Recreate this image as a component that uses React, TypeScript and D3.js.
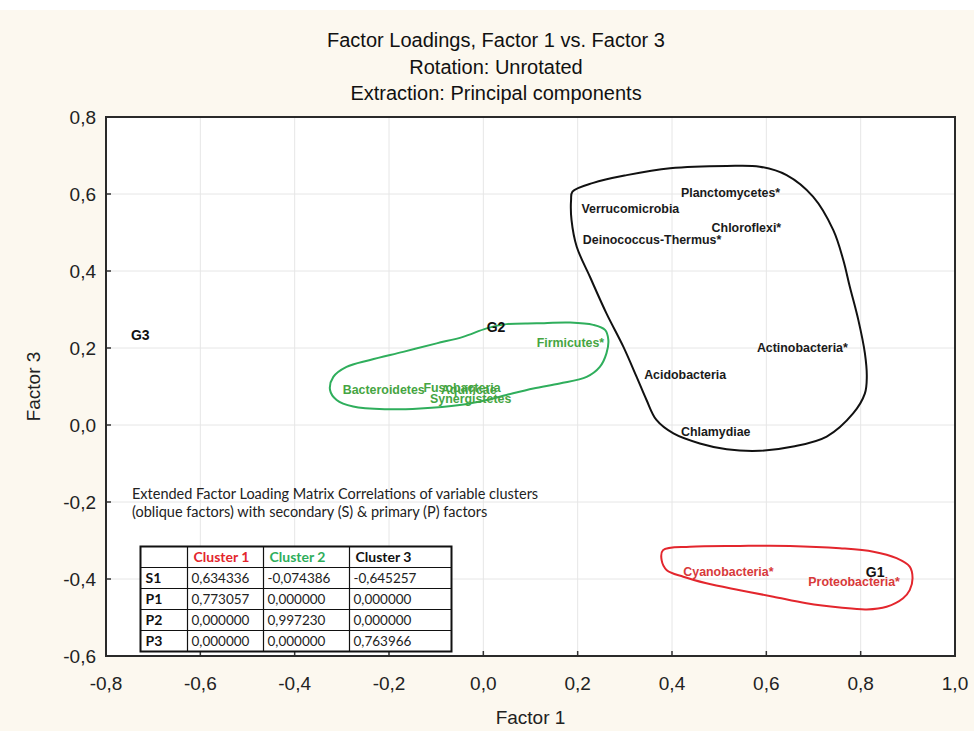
import React from "react";
import * as d3 from "d3";

const W = 974;
const H = 731;

const titleLines = [
  "Factor Loadings, Factor 1 vs. Factor 3",
  "Rotation: Unrotated",
  "Extraction: Principal components",
];
const xLabel = "Factor 1";
const yLabel = "Factor 3";

const xTicks = [-0.8, -0.6, -0.4, -0.2, 0.0, 0.2, 0.4, 0.6, 0.8, 1.0];
const yTicks = [-0.6, -0.4, -0.2, 0.0, 0.2, 0.4, 0.6, 0.8];

// variable loadings (label anchor = point)
const pointNames = [
  "Planctomycetes*",
  "Verrucomicrobia",
  "Chloroflexi*",
  "Deinococcus-Thermus*",
  "Actinobacteria*",
  "Acidobacteria",
  "Chlamydiae",
  "Firmicutes*",
  "Bacteroidetes",
  "Fusobacteria",
  "Aquificae",
  "Synergistetes",
  "Cyanobacteria*",
  "Proteobacteria*",
];
const pointX = [0.419, 0.208, 0.484, 0.211, 0.58, 0.341, 0.419, 0.113, -0.298, -0.127, -0.09, -0.113, 0.424, 0.689];
const pointY = [0.603, 0.561, 0.512, 0.481, 0.2, 0.13, -0.017, 0.215, 0.091, 0.097, 0.093, 0.069, -0.381, -0.407];
const pointCluster = [3, 3, 3, 3, 3, 3, 3, 2, 2, 2, 2, 2, 1, 1];

const groupNames = ["G1", "G2", "G3"];
const groupX = [0.811, 0.007, -0.747];
const groupY = [-0.381, 0.254, 0.234];

const cluster1Outline: [number, number][] = [
  [0.381, -0.325], [0.438, -0.316], [0.544, -0.314], [0.65, -0.314], [0.756, -0.32],
  [0.827, -0.329], [0.876, -0.346], [0.904, -0.368], [0.91, -0.398], [0.904, -0.429],
  [0.89, -0.45], [0.855, -0.472], [0.813, -0.479], [0.756, -0.474], [0.685, -0.463],
  [0.615, -0.446], [0.544, -0.429], [0.473, -0.411], [0.424, -0.394], [0.389, -0.377],
  [0.378, -0.351],
];
const cluster2Outline: [number, number][] = [
  [0.007, 0.251], [0.049, 0.262], [0.113, 0.264], [0.184, 0.266], [0.233, 0.26],
  [0.258, 0.247], [0.265, 0.221], [0.261, 0.186], [0.247, 0.151], [0.219, 0.125],
  [0.162, 0.108], [0.106, 0.095], [0.049, 0.078], [0.007, 0.065], [-0.05, 0.052],
  [-0.134, 0.043], [-0.205, 0.041], [-0.276, 0.048], [-0.311, 0.065], [-0.325, 0.091],
  [-0.318, 0.125], [-0.29, 0.151], [-0.24, 0.169], [-0.17, 0.19], [-0.099, 0.212],
  [-0.043, 0.229],
];
const cluster3Outline: [number, number][] = [
  [0.189, 0.606], [0.233, 0.629], [0.304, 0.649], [0.396, 0.667], [0.516, 0.673],
  [0.586, 0.671], [0.643, 0.649], [0.699, 0.593], [0.742, 0.506], [0.763, 0.429],
  [0.777, 0.359], [0.795, 0.273], [0.809, 0.186], [0.813, 0.125], [0.809, 0.082],
  [0.784, 0.03], [0.728, -0.03], [0.657, -0.056], [0.586, -0.067], [0.516, -0.063],
  [0.459, -0.048], [0.403, -0.022], [0.367, 0.013], [0.346, 0.065], [0.325, 0.125],
  [0.297, 0.203], [0.261, 0.29], [0.226, 0.385], [0.198, 0.463], [0.187, 0.532],
  [0.186, 0.584],
];

const noteLines = [
  "Extended Factor Loading Matrix Correlations of variable clusters",
  "(oblique factors) with secondary (S) & primary (P) factors",
];
const tableHeaders = ["", "Cluster 1", "Cluster 2", "Cluster 3"];
const tableRowLabels = ["S1", "P1", "P2", "P3"];
const tableValues = [
  ["0,634336", "-0,074386", "-0,645257"],
  ["0,773057", "0,000000", "0,000000"],
  ["0,000000", "0,997230", "0,000000"],
  ["0,000000", "0,000000", "0,763966"],
];

const clusterStroke: Record<number, string> = { 1: "#e3262d", 2: "#2fae5c", 3: "#111111" };
const clusterText: Record<number, string> = { 1: "#d8393a", 2: "#45a542", 3: "#1a1a1a" };
const headerColors = ["#000", "#e3262d", "#2fae5c", "#111"];

const locale = d3.formatLocale({ decimal: ",", thousands: ".", grouping: [3], currency: ["", ""], minus: "-" });
const fmt = locale.format(".1f");

export default function App() {
  const left = 106, right = 955, top = 117, bottom = 656;
  const x = d3.scaleLinear().domain([-0.8, 1.0]).range([left, right]);
  const y = d3.scaleLinear().domain([-0.6, 0.8]).range([bottom, top]);
  const line = d3
    .line<[number, number]>()
    .x((d) => x(d[0]))
    .y((d) => y(d[1]))
    .curve(d3.curveCatmullRomClosed.alpha(0.5));

  const axisFont = "'Liberation Sans', Arial, sans-serif";
  const noteFont = "Lato, 'Open Sans', sans-serif";

  const colEdges = [140.5, 187.5, 263.5, 349.5, 451.5];
  const rowH = 21;
  const tableTop = 546.5;

  return (
    <div style={{ position: "absolute", left: 0, top: 0 }}>
      <svg width={W} height={H} style={{ display: "block" }}>
        <rect x={0} y={0} width={W} height={H} fill="#ffffff" />
        <rect x={0} y={10} width={W} height={H - 10} fill="#fcf8ef" />
        <rect x={left} y={top} width={right - left} height={bottom - top} fill="#ffffff" />

        {/* grid */}
        {xTicks.slice(1, -1).map((t) => (
          <line key={"gx" + t} x1={x(t)} x2={x(t)} y1={top} y2={bottom} stroke="#e6e6e6" strokeWidth={1} />
        ))}
        {yTicks.slice(1, -1).map((t) => (
          <line key={"gy" + t} x1={left} x2={right} y1={y(t)} y2={y(t)} stroke="#e6e6e6" strokeWidth={1} />
        ))}

        {/* ticks inside */}
        {xTicks.map((t) => (
          <line key={"tx" + t} x1={x(t)} x2={x(t)} y1={bottom} y2={bottom - 5} stroke="#333" strokeWidth={1.5} />
        ))}
        {yTicks.map((t) => (
          <line key={"ty" + t} x1={left} x2={left + 5} y1={y(t)} y2={y(t)} stroke="#333" strokeWidth={1.5} />
        ))}

        {/* tick labels */}
        {xTicks.map((t) => (
          <text key={"lx" + t} x={x(t)} y={bottom + 34} textAnchor="middle" fontFamily={axisFont} fontSize={19} fill="#222">
            {fmt(t)}
          </text>
        ))}
        {yTicks.map((t) => (
          <text key={"ly" + t} x={left - 10} y={y(t)} dy="0.35em" textAnchor="end" fontFamily={axisFont} fontSize={19} fill="#222">
            {fmt(t)}
          </text>
        ))}

        {/* axis titles */}
        <text x={(left + right) / 2} y={724} textAnchor="middle" fontFamily={axisFont} fontSize={19} fill="#222">
          {xLabel}
        </text>
        <text transform={`translate(40,${(top + bottom) / 2}) rotate(-90)`} textAnchor="middle" fontFamily={axisFont} fontSize={19} fill="#222">
          {yLabel}
        </text>

        {/* titles */}
        {titleLines.map((s, i) => (
          <text key={s} x={496} y={47 + i * 26.5} textAnchor="middle" fontFamily={axisFont} fontSize={20} fill="#111">
            {s}
          </text>
        ))}

        {/* cluster outlines */}
        <path d={line(cluster1Outline) || ""} fill="none" stroke={clusterStroke[1]} strokeWidth={2} />
        <path d={line(cluster2Outline) || ""} fill="none" stroke={clusterStroke[2]} strokeWidth={2} />
        <path d={line(cluster3Outline) || ""} fill="none" stroke={clusterStroke[3]} strokeWidth={2} />

        {/* point labels */}
        {pointNames.map((n, i) => (
          <text
            key={n}
            x={x(pointX[i])}
            y={y(pointY[i])}
            dy="0.35em"
            fontFamily={axisFont}
            fontWeight="bold"
            fontSize={12.4}
            fill={clusterText[pointCluster[i]]}
          >
            {n}
          </text>
        ))}
        {groupNames.map((n, i) => (
          <text key={n} x={x(groupX[i])} y={y(groupY[i])} dy="0.35em" fontFamily={axisFont} fontWeight="bold" fontSize={14} fill="#111">
            {n}
          </text>
        ))}

        {/* note */}
        {noteLines.map((s, i) => (
          <text key={s} x={132} y={499 + i * 18} fontFamily={noteFont} fontSize={14.5} fill="#222">
            {s}
          </text>
        ))}

        {/* table */}
        <rect x={colEdges[0]} y={tableTop} width={colEdges[4] - colEdges[0]} height={rowH * 5} fill="#ffffff" />
        {[1, 2, 3, 4].map((r) => (
          <line key={"tr" + r} x1={colEdges[0]} x2={colEdges[4]} y1={tableTop + r * rowH} y2={tableTop + r * rowH} stroke="#111" strokeWidth={1.2} />
        ))}
        {colEdges.slice(1, 4).map((c) => (
          <line key={"tc" + c} x1={c} x2={c} y1={tableTop} y2={tableTop + rowH * 5} stroke="#111" strokeWidth={1.2} />
        ))}
        <rect x={colEdges[0]} y={tableTop} width={colEdges[4] - colEdges[0]} height={rowH * 5} fill="none" stroke="#111" strokeWidth={2} />
        {tableHeaders.map((h, j) => (
          <text key={"h" + j} x={colEdges[j] + 6} y={tableTop + rowH / 2} dy="0.35em" fontFamily={noteFont} fontWeight="bold" fontSize={14} fill={headerColors[j]}>
            {h}
          </text>
        ))}
        {tableRowLabels.map((r, i) => (
          <g key={r}>
            <text x={colEdges[0] + 5} y={tableTop + rowH * (i + 1.5)} dy="0.35em" fontFamily={noteFont} fontWeight="bold" fontSize={14} fill="#111">
              {r}
            </text>
            {tableValues[i].map((v, j) => (
              <text key={j} x={colEdges[j + 1] + 4} y={tableTop + rowH * (i + 1.5)} dy="0.35em" fontFamily={noteFont} fontSize={13.5} fill="#222">
                {v}
              </text>
            ))}
          </g>
        ))}

        {/* frame */}
        <rect x={left} y={top} width={right - left} height={bottom - top} fill="none" stroke="#2a2a2a" strokeWidth={2} />
      </svg>
    </div>
  );
}
